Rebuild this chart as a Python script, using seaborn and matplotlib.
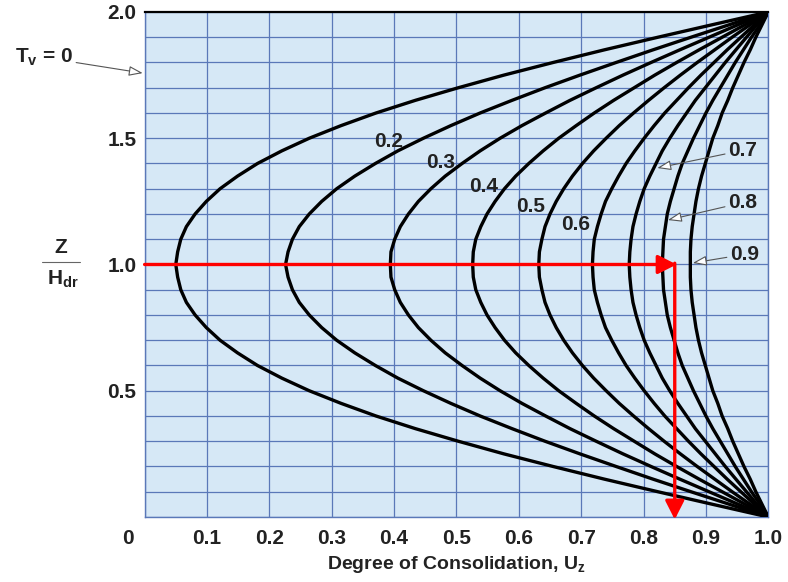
import numpy as np
import pandas as pd
import seaborn as sns
import matplotlib.pyplot as plt
from matplotlib.transforms import ScaledTranslation


# depth ratio Z/Hdr where the isochrones were read
z_ratio = [0.0, 0.05, 0.1, 0.15, 0.2, 0.25, 0.3, 0.35, 0.4, 0.45, 0.5,
           0.55, 0.6, 0.65, 0.7, 0.75, 0.8, 0.85, 0.9, 0.95, 1.0,
           1.05, 1.1, 1.15, 1.2, 1.25, 1.3, 1.35, 1.4, 1.45, 1.5,
           1.55, 1.6, 1.65, 1.7, 1.75, 1.8, 1.85, 1.9, 1.95, 2.0]

# degree of consolidation Uz along each isochrone (time factor Tv)
tv_values = [0.1, 0.2, 0.3, 0.4, 0.5, 0.6, 0.7, 0.8, 0.9]
uz_01 = [1.000, 0.911, 0.823, 0.737, 0.655, 0.576, 0.503, 0.434, 0.371,
         0.315, 0.264, 0.220, 0.181, 0.149, 0.121, 0.099, 0.081, 0.067,
         0.058, 0.053, 0.050,
         0.053, 0.058, 0.067, 0.081, 0.099, 0.121, 0.149, 0.181, 0.220,
         0.264, 0.315, 0.371, 0.434, 0.503, 0.576, 0.655, 0.737, 0.823,
         0.911, 1.000]
uz_02 = [1.000, 0.938, 0.876, 0.815, 0.756, 0.698, 0.642, 0.589, 0.538,
         0.491, 0.447, 0.406, 0.370, 0.337, 0.308, 0.284, 0.264, 0.248,
         0.237, 0.230, 0.226,
         0.230, 0.237, 0.248, 0.264, 0.284, 0.308, 0.337, 0.370, 0.406,
         0.447, 0.491, 0.538, 0.589, 0.642, 0.698, 0.756, 0.815, 0.876,
         0.938, 1.000]
uz_03 = [1.000, 0.952, 0.905, 0.858, 0.812, 0.767, 0.724, 0.682, 0.643,
         0.605, 0.570, 0.538, 0.509, 0.482, 0.459, 0.439, 0.423, 0.410,
         0.401, 0.395, 0.394,
         0.395, 0.401, 0.410, 0.423, 0.439, 0.459, 0.482, 0.509, 0.538,
         0.570, 0.605, 0.643, 0.682, 0.724, 0.767, 0.812, 0.858, 0.905,
         0.952, 1.000]
uz_04 = [1.000, 0.963, 0.926, 0.889, 0.853, 0.818, 0.785, 0.752, 0.721,
         0.692, 0.664, 0.639, 0.616, 0.595, 0.577, 0.562, 0.549, 0.539,
         0.531, 0.527, 0.526,
         0.527, 0.531, 0.539, 0.549, 0.562, 0.577, 0.595, 0.616, 0.639,
         0.664, 0.692, 0.721, 0.752, 0.785, 0.818, 0.853, 0.889, 0.926,
         0.963, 1.000]
uz_05 = [1.000, 0.971, 0.942, 0.914, 0.886, 0.859, 0.833, 0.808, 0.784,
         0.761, 0.740, 0.720, 0.702, 0.686, 0.672, 0.660, 0.650, 0.642,
         0.637, 0.633, 0.632,
         0.633, 0.637, 0.642, 0.650, 0.660, 0.672, 0.686, 0.702, 0.720,
         0.740, 0.761, 0.784, 0.808, 0.833, 0.859, 0.886, 0.914, 0.942,
         0.971, 1.000]
uz_06 = [1.000, 0.978, 0.956, 0.934, 0.913, 0.892, 0.872, 0.853, 0.834,
         0.817, 0.801, 0.786, 0.772, 0.760, 0.749, 0.739, 0.732, 0.726,
         0.721, 0.719, 0.718,
         0.719, 0.721, 0.726, 0.732, 0.739, 0.749, 0.760, 0.772, 0.786,
         0.801, 0.817, 0.834, 0.853, 0.872, 0.892, 0.913, 0.934, 0.956,
         0.978, 1.000]
uz_07 = [1.000, 0.982, 0.965, 0.948, 0.931, 0.915, 0.899, 0.883, 0.869,
         0.855, 0.842, 0.830, 0.820, 0.810, 0.801, 0.794, 0.788, 0.783,
         0.780, 0.778, 0.777,
         0.778, 0.780, 0.783, 0.788, 0.794, 0.801, 0.810, 0.820, 0.830,
         0.842, 0.855, 0.869, 0.883, 0.899, 0.915, 0.931, 0.948, 0.965,
         0.982, 1.000]
uz_08 = [1.000, 0.987, 0.973, 0.960, 0.947, 0.935, 0.923, 0.911, 0.900,
         0.890, 0.880, 0.871, 0.862, 0.855, 0.849, 0.843, 0.838, 0.835,
         0.832, 0.831, 0.830,
         0.831, 0.832, 0.835, 0.838, 0.843, 0.849, 0.855, 0.862, 0.871,
         0.880, 0.890, 0.900, 0.911, 0.923, 0.935, 0.947, 0.960, 0.973,
         0.987, 1.000]
uz_09 = [1.000, 0.990, 0.980, 0.971, 0.961, 0.952, 0.943, 0.935, 0.926,
         0.919, 0.911, 0.905, 0.899, 0.893, 0.888, 0.884, 0.881, 0.878,
         0.876, 0.875, 0.875,
         0.875, 0.876, 0.878, 0.881, 0.884, 0.888, 0.893, 0.899, 0.905,
         0.911, 0.919, 0.926, 0.935, 0.943, 0.952, 0.961, 0.971, 0.980,
         0.990, 1.000]
uz_curves = [uz_01, uz_02, uz_03, uz_04, uz_05, uz_06, uz_07, uz_08, uz_09]

x_ticks = [0.0, 0.1, 0.2, 0.3, 0.4, 0.5, 0.6, 0.7, 0.8, 0.9, 1.0]
x_tick_labels = ['0', '0.1', '0.2', '0.3', '0.4', '0.5', '0.6', '0.7',
                 '0.8', '0.9', '1.0']
y_ticks = [0.0, 0.1, 0.2, 0.3, 0.4, 0.5, 0.6, 0.7, 0.8, 0.9, 1.0,
           1.1, 1.2, 1.3, 1.4, 1.5, 1.6, 1.7, 1.8, 1.9, 2.0]
y_tick_labels = ['', '', '', '', '', '0.5', '', '', '', '', '1.0',
                 '', '', '', '', '1.5', '', '', '', '', '2.0']

# worked example
example_z = 1.0
example_uz = 0.85

BG = '#d6e8f6'
GRID = '#5a78b8'
LABEL_FONT = dict(fontsize=15, fontweight='bold', color='#222222')


def main():
    sns.set_theme(style='white')
    plt.rcParams['font.family'] = ['Liberation Sans', 'DejaVu Sans']
    plt.rcParams['mathtext.fontset'] = 'custom'
    plt.rcParams['mathtext.rm'] = 'Liberation Sans:bold'

    df = pd.DataFrame({
        'tv': np.repeat(tv_values, len(z_ratio)),
        'z': np.tile(z_ratio, len(tv_values)),
        'uz': np.concatenate(uz_curves),
    })

    fig = plt.figure(figsize=(7.88, 5.82), dpi=100)
    ax = fig.add_axes([0.1835, 0.1117, 0.7915, 0.8677])
    ax.set_facecolor(BG)

    sns.lineplot(data=df, x='uz', y='z', units='tv', estimator=None,
                 sort=False, color='black', lw=2.4, ax=ax, zorder=3,
                 legend=False)

    ax.set_xlim(0, 1.0)
    ax.set_ylim(0, 2.0)

    # grid every 0.1 in both directions
    ax.set_xticks(x_ticks)
    ax.set_xticklabels(x_tick_labels, **LABEL_FONT)
    ax.set_yticks(y_ticks)
    ax.set_yticklabels(y_tick_labels, **LABEL_FONT)
    ax.grid(True, color=GRID, lw=0.9, zorder=1)
    ax.set_axisbelow(True)
    ax.tick_params(axis='both', length=0)
    ax.tick_params(axis='x', pad=9)
    ax.tick_params(axis='y', pad=6)
    # the origin label sits left of the corner
    lbl0 = ax.get_xticklabels()[0]
    lbl0.set_transform(lbl0.get_transform() +
                       ScaledTranslation(-0.17, 0, fig.dpi_scale_trans))

    for side in ['left', 'bottom', 'right']:
        ax.spines[side].set_color(GRID)
        ax.spines[side].set_linewidth(1.0)
    ax.spines['top'].set_color('black')
    ax.spines['top'].set_linewidth(1.6)

    ax.set_xlabel(r'Degree of Consolidation, U$_\mathregular{z}$',
                  fontsize=14, fontweight='bold', color='#222222',
                  labelpad=4)
    ax.set_ylabel('')

    # Z / Hdr fraction label
    fig.text(0.0765, 0.575, 'Z', ha='center', va='center', **LABEL_FONT)
    fig.add_artist(plt.Line2D([0.053, 0.102], [0.55, 0.55],
                              color='#666666', lw=0.8))
    fig.text(0.08, 0.52, r'H$_\mathregular{dr}$', ha='center',
             va='center', **LABEL_FONT)

    # curve labels
    ax.text(0.391, 1.487, '0.2', ha='center', va='center', zorder=4,
            **LABEL_FONT)
    ax.text(0.474, 1.404, '0.3', ha='center', va='center', zorder=4,
            **LABEL_FONT)
    ax.text(0.543, 1.309, '0.4', ha='center', va='center', zorder=4,
            **LABEL_FONT)
    ax.text(0.619, 1.230, '0.5', ha='center', va='center', zorder=4,
            **LABEL_FONT)
    ax.text(0.691, 1.158, '0.6', ha='center', va='center', zorder=4,
            **LABEL_FONT)

    pointer = dict(arrowstyle='-|>,head_length=0.7,head_width=0.25',
                   fc='white', ec='#555555', lw=0.8, mutation_scale=12,
                   shrinkA=0, shrinkB=0)
    ax.annotate('0.7', xy=(0.822, 1.382), xytext=(0.959, 1.452),
                ha='center', va='center', arrowprops=pointer,
                annotation_clip=False, **LABEL_FONT)
    ax.annotate('0.8', xy=(0.839, 1.176), xytext=(0.959, 1.245),
                ha='center', va='center', arrowprops=pointer,
                annotation_clip=False, **LABEL_FONT)
    ax.annotate('0.9', xy=(0.879, 1.006), xytext=(0.962, 1.040),
                ha='center', va='center', arrowprops=pointer,
                annotation_clip=False, **LABEL_FONT)
    ax.annotate(r'T$_\mathregular{v}$ = 0', xy=(-0.003, 1.758),
                xytext=(-0.115, 1.82), ha='right', va='center',
                arrowprops=pointer, annotation_clip=False, **LABEL_FONT)

    # red arrows of the worked example
    red = dict(arrowstyle='-|>,head_length=0.75,head_width=0.38',
               color='#ff0000', lw=2.4, mutation_scale=15,
               shrinkA=0, shrinkB=0)
    ax.annotate('', xy=(example_uz + 0.003, example_z), xytext=(0, example_z),
                arrowprops=red, annotation_clip=False, zorder=5)
    ax.annotate('', xy=(example_uz, -0.01), xytext=(example_uz,
                                                    example_z + 0.005),
                arrowprops=red, annotation_clip=False, zorder=5)

    fig.savefig('out.png', dpi=100)
    plt.close(fig)


if __name__ == '__main__':
    main()
